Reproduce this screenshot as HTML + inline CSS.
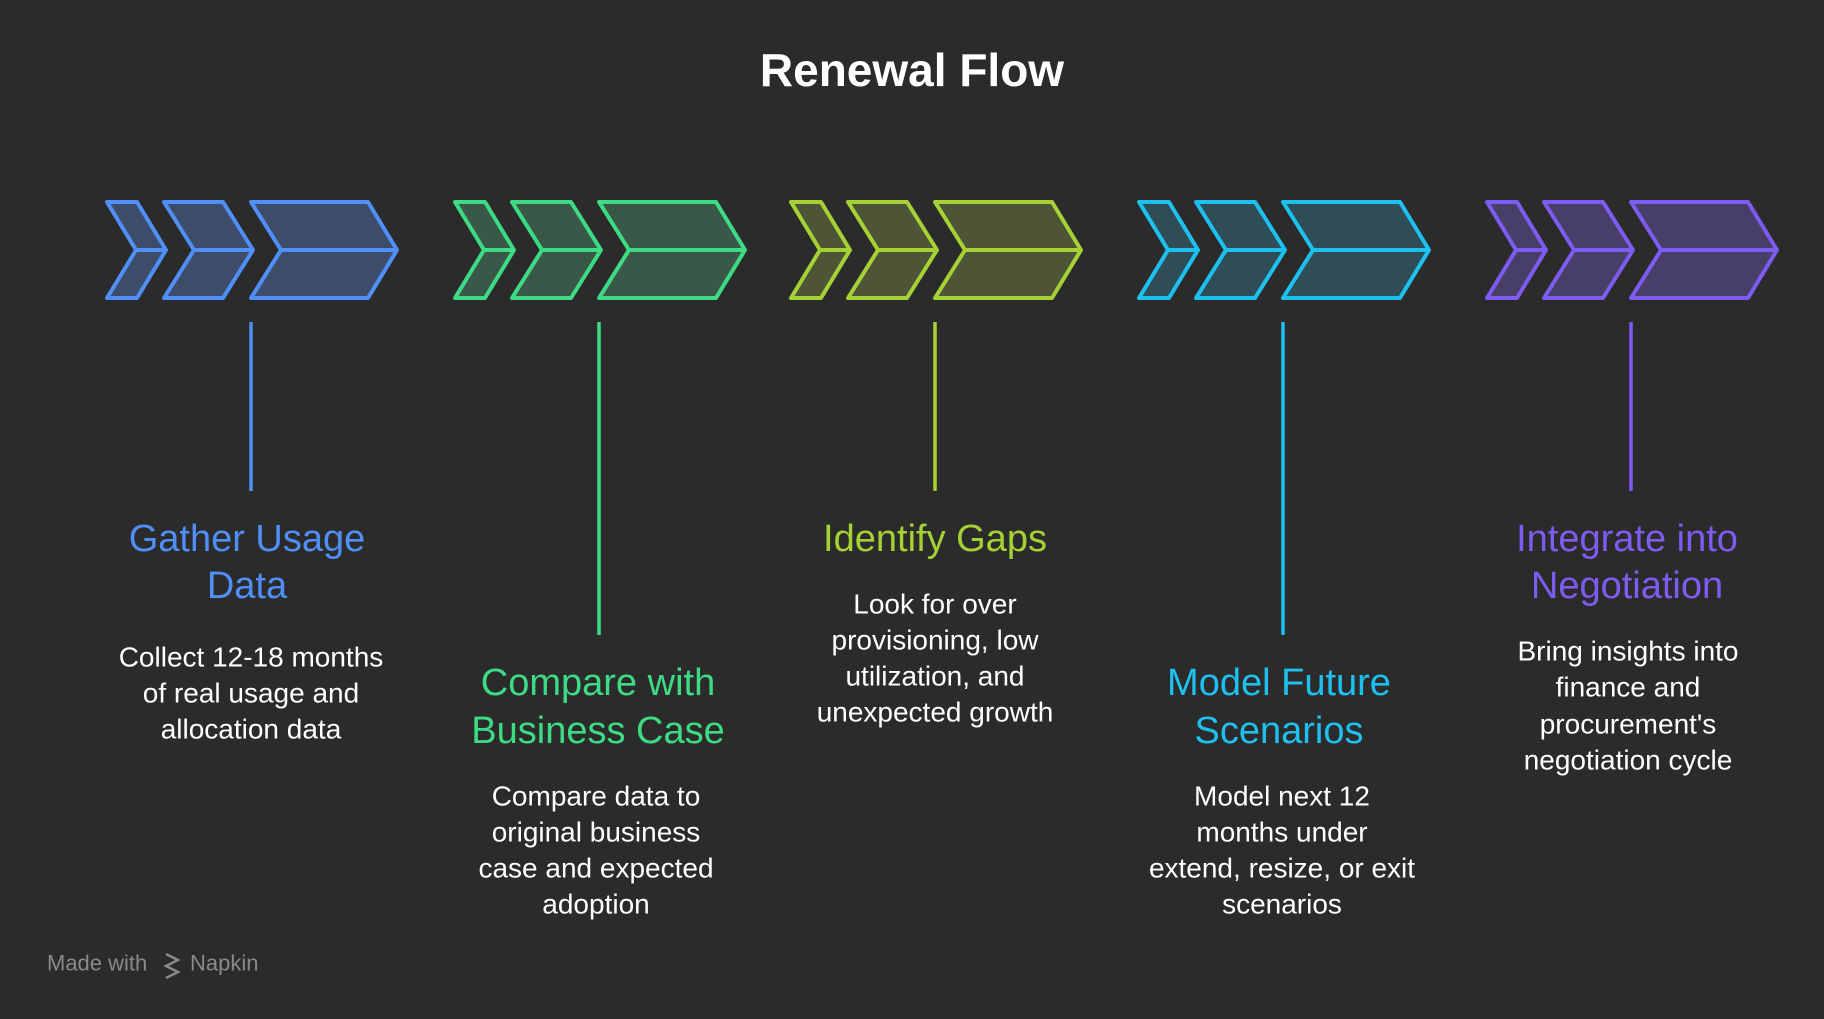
<!DOCTYPE html>
<html><head><meta charset="utf-8"><style>
html,body{margin:0;padding:0;background:#2b2b2b;}
svg{display:block}
text{font-family:"Liberation Sans",sans-serif;}
</style></head><body>
<svg width="1824" height="1019" viewBox="0 0 1824 1019" xmlns="http://www.w3.org/2000/svg">
<rect width="1824" height="1019" fill="#2b2b2b"/>
<text x="912" y="70" text-anchor="middle" dominant-baseline="central" font-size="46" font-weight="bold" fill="#ffffff">Renewal Flow</text>
<defs>
<g id="chev">
<path d="M0 0 H30 L59 48 L30 96 H0 L29 48 Z M29 48 H59"/>
<path d="M57 0 H116 L146 48 L116 96 H57 L87 48 Z M87 48 H146"/>
<path d="M144 0 H261 L290 48 L261 96 H144 L174 48 Z M174 48 H290"/>
</g>
</defs>
<g stroke-width="4" stroke-linejoin="round">
<use href="#chev" transform="translate(107,202)" stroke="#4f8ff7" fill="#3d4d69"/>
<use href="#chev" transform="translate(455,202)" stroke="#3ddc84" fill="#395848"/>
<use href="#chev" transform="translate(791,202)" stroke="#a6d134" fill="#4e5536"/>
<use href="#chev" transform="translate(1139,202)" stroke="#1ec0f0" fill="#2f4d57"/>
<use href="#chev" transform="translate(1487,202)" stroke="#7d5cf2" fill="#473f68"/>
</g>
<g stroke-width="3.5">
<line x1="251" y1="322" x2="251" y2="491" stroke="#4f8ff7"/>
<line x1="599" y1="322" x2="599" y2="635" stroke="#3ddc84"/>
<line x1="935" y1="322" x2="935" y2="491" stroke="#a6d134"/>
<line x1="1283" y1="322" x2="1283" y2="635" stroke="#1ec0f0"/>
<line x1="1631" y1="322" x2="1631" y2="491" stroke="#7d5cf2"/>
</g>
<g text-anchor="middle" dominant-baseline="central" font-size="38">
<text x="247" y="539" fill="#4f8ff7">Gather Usage</text>
<text x="247" y="586" fill="#4f8ff7">Data</text>
<text x="598" y="683" fill="#3ddc84">Compare with</text>
<text x="598" y="731" fill="#3ddc84">Business Case</text>
<text x="935" y="539" fill="#a6d134">Identify Gaps</text>
<text x="1279" y="683" fill="#1ec0f0">Model Future</text>
<text x="1279" y="731" fill="#1ec0f0">Scenarios</text>
<text x="1627" y="539" fill="#7d5cf2">Integrate into</text>
<text x="1627" y="586" fill="#7d5cf2">Negotiation</text>
</g>
<g text-anchor="middle" dominant-baseline="central" font-size="28" fill="#ffffff">
<text x="251" y="657">Collect 12-18 months</text>
<text x="251" y="693">of real usage and</text>
<text x="251" y="729">allocation data</text>
<text x="596" y="796">Compare data to</text>
<text x="596" y="832">original business</text>
<text x="596" y="868">case and expected</text>
<text x="596" y="904">adoption</text>
<text x="935" y="604">Look for over</text>
<text x="935" y="640">provisioning, low</text>
<text x="935" y="676">utilization, and</text>
<text x="935" y="712">unexpected growth</text>
<text x="1282" y="796">Model next 12</text>
<text x="1282" y="832">months under</text>
<text x="1282" y="868">extend, resize, or exit</text>
<text x="1282" y="904">scenarios</text>
<text x="1628" y="651">Bring insights into</text>
<text x="1628" y="687">finance and</text>
<text x="1628" y="724">procurement's</text>
<text x="1628" y="760">negotiation cycle</text>
</g>
<text x="47" y="963" dominant-baseline="central" font-size="22" fill="#8a8a8a">Made with</text>
<path d="M166 954 l12 6 -12 6 12 6 -12 6" stroke="#8a8a8a" stroke-width="2.5" fill="none"/>
<text x="190" y="963" dominant-baseline="central" font-size="22" fill="#8a8a8a">Napkin</text>
</svg>
</body></html>
